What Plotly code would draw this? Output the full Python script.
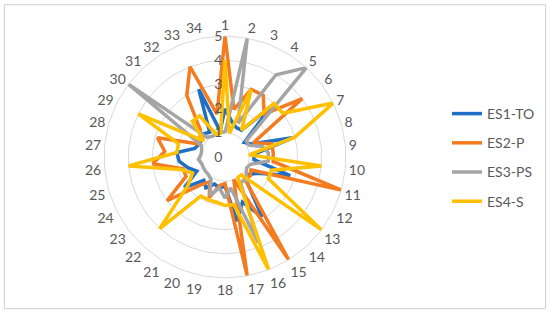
import plotly.graph_objects as go

categories = [str(i) for i in range(1, 35)]

es1_to = [2.0, 1.5, 1.3, 1.3, 2.8, 1.0, 1.2, 2.9, 1.2, 1.2, 2.8, 1.5, 1.2, 1.3, 2.9, 2.0, 2.7,
          1.2, 1.3, 1.2, 1.5, 1.3, 2.1, 1.3, 1.6, 1.9, 2.0, 1.3, 1.2, 1.2, 1.3, 1.2, 3.0, 1.1]
es2_p = [5.0, 2.0, 3.0, 3.0, 2.4, 4.0, 1.3, 2.0, 2.0, 2.0, 5.0, 1.2, 1.3, 1.2, 5.0, 1.0, 5.0,
         1.1, 1.2, 1.8, 1.2, 1.6, 3.0, 1.8, 1.8, 3.0, 2.5, 2.9, 1.2, 1.3, 1.5, 3.0, 4.0, 1.8]
es3_ps = [1.0, 5.0, 1.5, 4.0, 5.0, 1.1, 1.1, 1.6, 1.8, 1.8, 1.1, 1.0, 1.1, 1.3, 1.2, 3.8, 1.3,
          1.7, 1.3, 1.7, 1.1, 1.0, 1.0, 1.0, 1.0, 1.1, 1.0, 1.0, 1.1, 5.0, 1.1, 1.0, 1.0, 1.1]
es4_s = [4.0, 1.0, 3.0, 1.3, 3.0, 3.0, 5.0, 3.0, 1.0, 4.0, 2.0, 2.0, 5.0, 1.0, 1.0, 5.0, 2.0,
         2.0, 1.9, 1.9, 1.9, 4.0, 1.9, 1.5, 1.9, 4.0, 2.0, 2.0, 4.0, 1.1, 2.0, 2.0, 1.0, 1.0]

series_names = ["ES1-TO", "ES2-P", "ES3-PS", "ES4-S"]
series_values = [es1_to, es2_p, es3_ps, es4_s]
series_colors = ["#1F6FC5", "#F47B20", "#A5A5A5", "#FFC000"]

radial_ticks = [0, 1, 2, 3, 4, 5]

fig = go.Figure()
for name, vals, col in zip(series_names, series_values, series_colors):
    fig.add_trace(go.Scatterpolar(
        r=vals + vals[:1],
        theta=categories + categories[:1],
        mode="lines",
        name=name,
        legendgroup=name,
        line=dict(color=col, width=3.5),
    ))

fig.update_layout(
    width=550, height=315,
    margin=dict(l=0, r=0, t=0, b=0),
    paper_bgcolor="white",
    plot_bgcolor="white",
    font=dict(family="Lato, Open Sans, sans-serif", color="#595959", size=14),
    polar=dict(
        domain=dict(x=[104 / 550, 346 / 550], y=[37 / 315, 279 / 315]),
        bgcolor="white",
        gridshape="linear",
        radialaxis=dict(
            range=[0, 5],
            tickvals=radial_ticks,
            angle=90,
            tickangle=90,
            side="counterclockwise",
            ticksuffix="\u00a0" * 6,
            showline=False,
            ticks="",
            gridcolor="#D9D9D9",
            gridwidth=1,
            tickfont=dict(size=14, color="#595959"),
        ),
        angularaxis=dict(
            rotation=90,
            direction="clockwise",
            showgrid=False,
            showline=True,
            linecolor="#D9D9D9",
            linewidth=1,
            ticks="",
            tickfont=dict(size=14, color="#595959"),
        ),
    ),
    legend=dict(
        x=447 / 550, xanchor="left",
        y=0.5, yanchor="middle",
        font=dict(size=14, color="#595959"),
        tracegroupgap=8,
        bgcolor="rgba(0,0,0,0)",
    ),
    shapes=[dict(type="rect", xref="paper", yref="paper", x0=0.008, x1=0.992, y0=0.02, y1=0.985,
                 line=dict(color="#D0D0D0", width=1))],
)

fig.write_html("out.html", config={"displayModeBar": False},
               post_script="document.body.style.margin='0';")
